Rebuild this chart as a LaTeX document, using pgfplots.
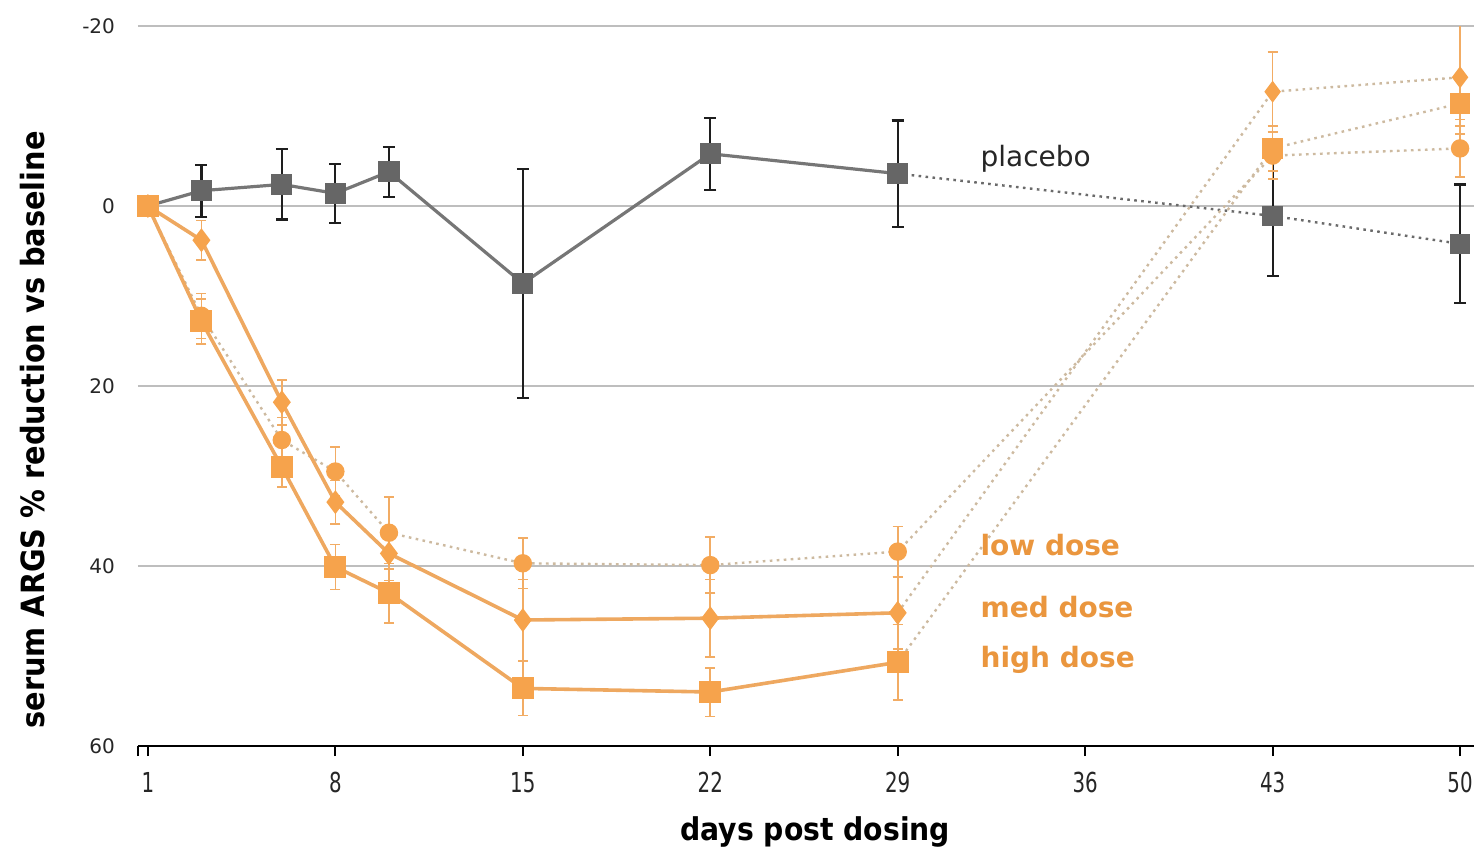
\documentclass[border=0pt]{standalone}
\usepackage{fontspec}
\setmainfont{DejaVu Sans}
\newfontfamily\cond{DejaVuSansCondensed}[Extension=.ttf, BoldFont=DejaVuSansCondensed-Bold]
\usepackage{pgfplots}
\pgfplotsset{compat=1.18}
\usepackage{pgfplotstable}

\definecolor{pmark}{RGB}{102,102,102}
\definecolor{pline}{RGB}{118,118,118}
\definecolor{perr}{RGB}{30,30,30}
\definecolor{omark}{RGB}{246,163,76}
\definecolor{oline}{RGB}{238,168,96}
\definecolor{oerr}{RGB}{242,172,100}
\definecolor{odot}{RGB}{205,186,160}
\definecolor{otext}{RGB}{234,150,62}
\definecolor{gridc}{RGB}{190,190,190}

% day, % reduction, error
\pgfplotstableread{
d v e
1 0 0
3 -1.7 2.9
6 -2.4 3.9
8 -1.4 3.3
10 -3.8 2.8
15 8.6 12.7
22 -5.8 4.0
29 -3.6 5.9
43 1.1 6.7
50 4.2 6.6
}\placebo

\pgfplotstableread{
d v e
1 0 0
3 12.2 2.5
6 26.0 2.5
8 29.5 2.7
10 36.3 4.0
15 39.7 2.8
22 39.9 3.1
29 38.4 2.8
43 -5.6 2.6
50 -6.4 3.2
}\low

\pgfplotstableread{
d v e
1 0 0
3 3.8 2.2
6 21.8 2.5
8 32.9 2.4
10 38.6 3.0
15 46.0 4.5
22 45.8 4.3
29 45.2 4.0
43 -12.7 4.4
50 -14.3 6.3
}\med

\pgfplotstableread{
d v e
1 0 0
3 12.8 2.5
6 29.0 2.2
8 40.1 2.5
10 43.0 3.3
15 53.6 3.0
22 54.0 2.7
29 50.7 4.2
43 -6.4 2.5
50 -11.4 2.5
}\high

\begin{document}
\begin{tikzpicture}
\begin{axis}[
  name=ax,
  scale only axis,
  width=668pt, height=360pt,
  xmin=0.63, xmax=50.52,
  ymin=-20, ymax=60,
  y dir=reverse,
  axis x line*=bottom,
  axis y line*=left,
  y axis line style={draw=none},
  x axis line style={black, line width=1.2pt, -},
  xtick={1,8,15,22,29,36,43,50},
  xticklabels={1,8,15,22,29,36,43,50},
  extra x ticks={0.63},
  extra x tick labels={},
  ytick={-20,0,20,40,60},
  yticklabels={-20,0,20,40,60},
  tick align=outside,
  major tick length=5pt,
  x tick style={black, line width=1pt},
  y tick style={draw=none},
  xticklabel style={font=\cond\fontsize{11}{13}\selectfont, yscale=1.25, yshift=-3pt, text=black!85},
  yticklabel style={font=\fontsize{10}{12}\selectfont, xshift=-3pt, text=black!85},
  ymajorgrids,
  major grid style={gridc, line width=1.1pt},
  xlabel={days post dosing},
  xlabel style={font=\cond\bfseries\fontsize{15.7}{18}\selectfont, at={(axis description cs:0.507,-0.1194)}, anchor=center},
  ylabel={serum ARGS \% reduction vs baseline},
  ylabel style={font=\cond\bfseries\fontsize{16}{18}\selectfont, at={(axis description cs:-0.0786,0.439)}, anchor=center, rotate=0},
]
% placebo
\addplot[color=pline, line width=1.6pt, mark=square*, mark size=4.5pt,
  mark options={solid, fill=pmark, draw=pmark}, restrict x to domain=1:29,
  error bars/.cd, y dir=both, y explicit,
  error bar style={color=perr, line width=1.1pt},
  error mark options={color=perr, line width=1.1pt, mark size=3pt, rotate=90}]
  table[x=d, y=v, y error=e]{\placebo};
\addplot[color=pline!90!black, line width=1.2pt, dash pattern=on 1.3pt off 2.2pt, mark=square*, mark size=4.5pt,
  mark options={solid, fill=pmark, draw=pmark}, restrict x to domain=29:50,
  error bars/.cd, y dir=both, y explicit,
  error bar style={color=perr, line width=1.1pt, solid},
  error mark options={color=perr, line width=1.1pt, mark size=3pt, rotate=90, solid}]
  table[x=d, y=v, y error=e]{\placebo};
% low dose
\addplot[color=odot, line width=1.2pt, dash pattern=on 1.3pt off 2.2pt, mark=*, mark size=4pt,
  mark options={solid, fill=omark, draw=omark},
  error bars/.cd, y dir=both, y explicit,
  error bar style={color=oerr, line width=0.8pt, solid},
  error mark options={color=oerr, line width=0.8pt, mark size=2.5pt, rotate=90, solid}]
  table[x=d, y=v, y error=e]{\low};
% med dose
\addplot[color=oline, line width=1.8pt, mark=diamond*, mark size=4.5pt,
  mark options={solid, fill=omark, draw=omark}, restrict x to domain=1:29,
  error bars/.cd, y dir=both, y explicit,
  error bar style={color=oerr, line width=0.8pt},
  error mark options={color=oerr, line width=0.8pt, mark size=2.5pt, rotate=90}]
  table[x=d, y=v, y error=e]{\med};
\addplot[color=odot, line width=1.2pt, dash pattern=on 1.3pt off 2.2pt, mark=diamond*, mark size=4.5pt,
  mark options={solid, fill=omark, draw=omark}, restrict x to domain=29:50,
  error bars/.cd, y dir=both, y explicit,
  error bar style={color=oerr, line width=0.8pt, solid},
  error mark options={color=oerr, line width=0.8pt, mark size=2.5pt, rotate=90, solid}]
  table[x=d, y=v, y error=e]{\med};
% high dose
\addplot[color=oline, line width=1.8pt, mark=square*, mark size=4.6pt,
  mark options={solid, fill=omark, draw=omark}, restrict x to domain=1:29,
  error bars/.cd, y dir=both, y explicit,
  error bar style={color=oerr, line width=0.8pt},
  error mark options={color=oerr, line width=0.8pt, mark size=2.5pt, rotate=90}]
  table[x=d, y=v, y error=e]{\high};
\addplot[color=odot, line width=1.2pt, dash pattern=on 1.3pt off 2.2pt, mark=square*, mark size=4.6pt,
  mark options={solid, fill=omark, draw=omark}, restrict x to domain=29:50,
  error bars/.cd, y dir=both, y explicit,
  error bar style={color=oerr, line width=0.8pt, solid},
  error mark options={color=oerr, line width=0.8pt, mark size=2.5pt, rotate=90, solid}]
  table[x=d, y=v, y error=e]{\high};

\node[anchor=base west, inner sep=0pt, font=\fontsize{14}{16}\selectfont, text=black!85] at (axis cs:32.08,-4.4) {placebo};
\node[anchor=base west, inner sep=0pt, font=\bfseries\fontsize{14}{16}\selectfont, text=otext] at (axis cs:32.08,38.8) {low dose};
\node[anchor=base west, inner sep=0pt, font=\bfseries\fontsize{14}{16}\selectfont, text=otext] at (axis cs:32.08,45.7) {med dose};
\node[anchor=base west, inner sep=0pt, font=\bfseries\fontsize{14}{16}\selectfont, text=otext] at (axis cs:32.08,51.3) {high dose};
\end{axis}
\pgfresetboundingbox
\path[use as bounding box] ([shift={(-69pt,-52.5pt)}]ax.south west) rectangle ([shift={(0pt,13pt)}]ax.north east);
\end{tikzpicture}
\end{document}
